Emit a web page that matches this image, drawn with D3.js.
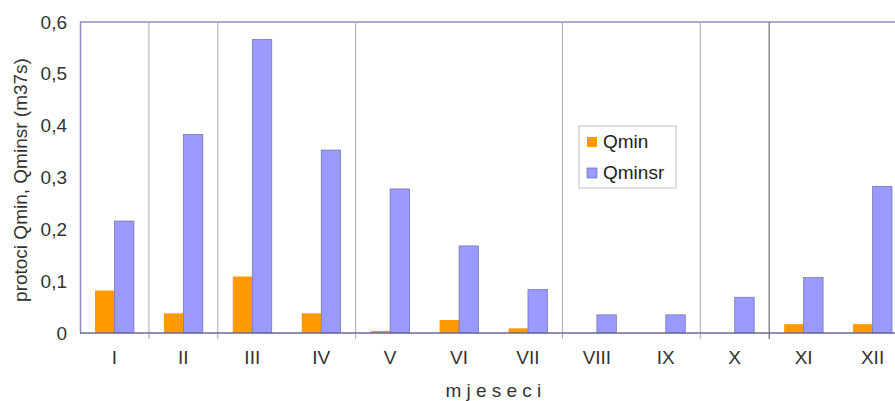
<!DOCTYPE html>
<html>
<head>
<meta charset="utf-8">
<script src="https://cdn.jsdelivr.net/npm/d3@7"></script>
<style>
  html, body { margin: 0; padding: 0; background: #fff; }
  svg { display: block; font-family: "Liberation Sans", Arial, sans-serif; }
</style>
</head>
<body>
<svg id="chart" width="895" height="401"></svg>
<script>
// Monthly minimum flows
const months = ["I", "II", "III", "IV", "V", "VI", "VII", "VIII", "IX", "X", "XI", "XII"];
const qmin   = [0.082, 0.038, 0.109, 0.038, 0.004, 0.025, 0.009, 0, 0, 0, 0.017, 0.017];
const qminsr = [0.216, 0.383, 0.566, 0.353, 0.278, 0.168, 0.084, 0.035, 0.035, 0.069, 0.107, 0.283];
const seriesNames = ["Qmin", "Qminsr"];
const yTicks = [0, 0.1, 0.2, 0.3, 0.4, 0.5, 0.6];
// months that have a separator line drawn before them
const dividers = ["II", "III", "V", "VIII", "X", "XI"];

const colors = { Qmin: "#ff9900", Qminsr: "#9999ff" };
const fontSize = 19;

const svg = d3.select("#chart");
const plotLeft = 80, plotTop = 22, plotBottom = 333, plotRight = 907;

const x = d3.scaleBand().domain(months).range([plotLeft, plotRight]).padding(0);
const xs = d3.scaleBand().domain(seriesNames).range([0, x.bandwidth()])
  .paddingInner(0).paddingOuter(0.77);
const y = d3.scaleLinear().domain([0, 0.6]).range([plotBottom, plotTop]);

const rows = months.map((m, i) => ({ month: m, Qmin: qmin[i], Qminsr: qminsr[i] }));

// top frame line
svg.append("line")
  .attr("x1", plotLeft).attr("x2", 895).attr("y1", plotTop).attr("y2", plotTop)
  .attr("stroke", "#8c8cc4").attr("stroke-width", 1.5);

// category separators
svg.append("g").selectAll("line").data(dividers).join("line")
  .attr("x1", d => x(d)).attr("x2", d => x(d))
  .attr("y1", plotTop).attr("y2", plotBottom + 6)
  .attr("stroke", d => d === "XI" ? "#505050" : "#a8a8a8")
  .attr("stroke-width", 1);

// bars
const groups = svg.append("g").selectAll("g").data(rows).join("g")
  .attr("transform", d => `translate(${x(d.month)},0)`);

groups.selectAll("rect")
  .data(d => seriesNames.map(s => ({ key: s, value: d[s] })))
  .join("rect")
  .attr("x", d => xs(d.key))
  .attr("width", xs.bandwidth())
  .attr("y", d => y(d.value))
  .attr("height", d => plotBottom - y(d.value))
  .attr("fill", d => colors[d.key])
  .attr("stroke", d => d.key === "Qminsr" ? "#6f6fa8" : "none")
  .attr("stroke-width", 0.7);

// y axis
const yAxis = svg.append("g")
  .attr("transform", `translate(${plotLeft},0)`)
  .call(d3.axisLeft(y).tickValues(yTicks).tickSize(0).tickPadding(13)
    .tickFormat(d => d === 0 ? "0" : d3.format(".1f")(d).replace(".", ",")));
yAxis.select(".domain").attr("stroke", "#8c8cc4").attr("stroke-width", 1.5);
yAxis.selectAll("text").attr("font-size", fontSize).attr("fill", "#333");

// x axis
const xAxis = svg.append("g")
  .attr("transform", `translate(0,${plotBottom})`)
  .call(d3.axisBottom(x).tickSize(0).tickPadding(18));
xAxis.select(".domain").attr("d", `M${plotLeft},0H895`).attr("stroke", "#6a6a98").attr("stroke-width", 1.5);
xAxis.selectAll("text").attr("font-size", fontSize).attr("fill", "#333");

// axis titles
svg.append("text")
  .attr("x", 496).attr("y", 397)
  .attr("text-anchor", "middle")
  .attr("font-size", fontSize).attr("fill", "#333")
  .attr("letter-spacing", "5.2px")
  .text("mjeseci");

svg.append("text")
  .attr("transform", "translate(27,180) rotate(-90)")
  .attr("text-anchor", "middle")
  .attr("font-size", fontSize).attr("fill", "#333")
  .text("protoci Qmin, Qminsr (m37s)");

// legend
const legend = svg.append("g").attr("transform", "translate(579,126)");
legend.append("rect")
  .attr("width", 97).attr("height", 62)
  .attr("fill", "#fff").attr("stroke", "#c0c0c0").attr("stroke-width", 1);
const li = legend.selectAll("g").data(seriesNames).join("g")
  .attr("transform", (d, i) => `translate(8,${11 + i * 31})`);
li.append("rect").attr("width", 10).attr("height", 10)
  .attr("fill", d => colors[d])
  .attr("stroke", d => d === "Qminsr" ? "#6f6fa8" : "none").attr("stroke-width", 0.7);
li.append("text").attr("x", 16).attr("y", 11)
  .attr("font-size", fontSize).attr("fill", "#222")
  .text(d => d);
</script>
</body>
</html>
